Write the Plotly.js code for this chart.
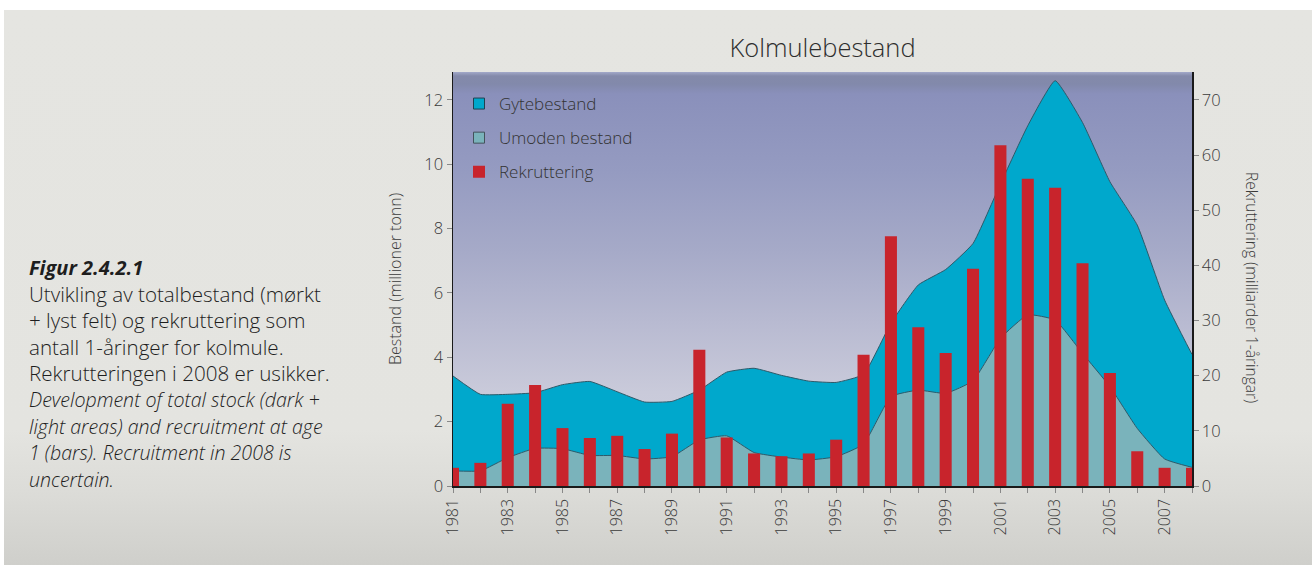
<!DOCTYPE html>
<html>
<head>
<meta charset="utf-8">
<script src="https://cdn.plot.ly/plotly-3.0.1.min.js"></script>
<style>
  html, body { margin: 0; padding: 0; width: 1312px; height: 565px; overflow: hidden; background: #ffffff; }
  #page { position: absolute; left: 4px; top: 10px; width: 1308px; height: 555px;
    background: linear-gradient(to bottom, #e5e5e1 0px, #e4e4e0 420px, #dcdcd8 480px, #cfcfcb 555px); }
  #plotbg { position: absolute; left: 453px; top: 72px; width: 739px; height: 414px;
    background: linear-gradient(to bottom, #a3a9c9 0px, #848aaa 4px, #8289ab 12px, #8a90bb 22px, #959bc1 100px, #a6aac8 180px, #b8bad1 250px, #c9cada 320px, #d3d3de 414px); }
  #chart { position: absolute; left: 0; top: 0; width: 1312px; height: 565px; }
</style>
</head>
<body>
<div id="page"></div>
<div id="plotbg"></div>
<div id="chart"></div>
<script>
// ---- data ----
const years = [1981,1982,1983,1984,1985,1986,1987,1988,1989,1990,1991,1992,1993,1994,
               1995,1996,1997,1998,1999,2000,2001,2002,2003,2004,2005,2006,2007,2008];
// total stock (top of dark area), million tonnes
const totalStock = [3.42,2.85,2.85,2.90,3.15,3.25,2.93,2.61,2.63,2.98,3.54,3.66,3.44,3.26,
                    3.22,3.47,5.06,6.25,6.73,7.54,9.39,11.2,12.6,11.3,9.46,8.11,5.78,4.09];
// immature stock (light area), million tonnes
const immatureStock = [0.47,0.47,0.88,1.17,1.16,0.95,0.95,0.84,0.91,1.43,1.56,1.04,0.90,0.81,
                       0.91,1.30,2.78,2.98,2.88,3.27,4.59,5.32,5.16,4.12,3.09,1.79,0.84,0.58];
// recruitment, billions of 1-year-olds
const recruitment = [3.3,4.2,14.9,18.3,10.5,8.7,9.1,6.7,9.5,24.7,8.8,5.9,5.4,5.9,
                     8.4,23.8,45.3,28.8,24.1,39.4,61.8,55.7,54.1,40.4,20.5,6.3,3.3,3.3];

const titleText = 'Kolmulebestand';
const seriesNames = ['Gytebestand', 'Umoden bestand', 'Rekruttering'];
const leftAxisTitle = 'Bestand (millioner tonn)';
const rightAxisTitle = 'Rekruttering (milliarder 1-åringar)';
const leftTicks = [0,2,4,6,8,10,12];
const rightTicks = [0,10,20,30,40,50,60,70];
const xTicks = [1981,1983,1985,1987,1989,1991,1993,1995,1997,1999,2001,2003,2005,2007];
const captionLines = [
  '<b><i>Figur 2.4.2.1</i></b>',
  'Utvikling av totalbestand (mørkt',
  '+ lyst felt) og rekruttering som',
  'antall 1-åringer for kolmule.',
  'Rekrutteringen i 2008 er usikker.',
  '<i>Development of total stock (dark +</i>',
  '<i>light areas) and recruitment at age</i>',
  '<i>1 (bars). Recruitment in 2008 is</i>',
  '<i>uncertain.</i>'
];
const captionSizes = [20, 20.6, 20.6, 20.6, 20.6, 19.6, 19.6, 19.6, 19.6];

// ---- layout helpers (pixel -> paper) ----
const L = 453, R = 1192, T = 72, B = 486;
const px = x => (x - L) / (R - L);
const py = y => (B - y) / (B - T);

const DARK = '#00a8cc', LIGHT = '#7ab3bb', RED = '#c8242c', EDGE = '#2c5a69';
const FONT = '"Open Sans", "Noto Sans", sans-serif';
const TXT = '#3a3a3a';

const traces = [
  { x: years, y: immatureStock, type: 'scatter', mode: 'lines', fill: 'tozeroy',
    fillcolor: LIGHT, line: { color: EDGE, width: 1, shape: 'spline', smoothing: 0.4 },
    showlegend: false, hoverinfo: 'skip' },
  { x: years, y: totalStock, type: 'scatter', mode: 'lines', fill: 'tonexty',
    fillcolor: DARK, line: { color: EDGE, width: 1, shape: 'spline', smoothing: 0.4 },
    showlegend: false, hoverinfo: 'skip' },
  { x: [null], y: [null], type: 'scatter', mode: 'markers', name: seriesNames[0], legendgroup: 'a',
    marker: { symbol: 'square', size: 11, color: DARK, line: { color: '#1f4250', width: 1 } } },
  { x: [null], y: [null], type: 'scatter', mode: 'markers', name: seriesNames[1], legendgroup: 'b',
    marker: { symbol: 'square', size: 11, color: LIGHT, line: { color: '#44525a', width: 1 } } },
  { x: years, y: recruitment, type: 'bar', yaxis: 'y2', name: seriesNames[2], legendgroup: 'c',
    width: 0.44, marker: { color: RED, line: { width: 0 } } }
];

const annotations = captionLines.map((t, i) => ({
  text: t, xref: 'paper', yref: 'paper', x: px(27), y: py(267 + i * 26.5),
  xanchor: 'left', yanchor: 'middle', showarrow: false,
  font: { family: FONT, size: captionSizes[i], color: '#1e1e1e' }
}));
annotations.push({
  text: rightAxisTitle, xref: 'paper', yref: 'paper', x: px(1252), y: py(287),
  xanchor: 'center', yanchor: 'middle', showarrow: false, textangle: 90,
  font: { family: FONT, size: 15.5, color: TXT, weight: 300 }
});

const layout = {
  width: 1312, height: 565,
  margin: { l: L, r: 1312 - R, t: T, b: 565 - B, pad: 0 },
  paper_bgcolor: 'rgba(0,0,0,0)', plot_bgcolor: 'rgba(0,0,0,0)',
  font: { family: FONT, color: TXT, weight: 300 },
  title: { text: titleText, xref: 'paper', x: 0.5, xanchor: 'center', y: 1 - 48 / 565, yanchor: 'middle',
           font: { family: FONT, size: 25.5, color: '#2e2e2e', weight: 300 } },
  barmode: 'overlay',
  showlegend: true,
  legend: { x: px(459), y: py(86), xanchor: 'left', yanchor: 'top', bgcolor: 'rgba(0,0,0,0)',
            traceorder: 'grouped', tracegroupgap: 9,
            font: { family: FONT, size: 17, color: '#333', weight: 300 } },
  xaxis: { range: [1981, 2008], tickmode: 'array', tickvals: xTicks, tickangle: -90,
           ticks: 'outside', ticklen: 5, tickcolor: '#888', showgrid: false, zeroline: false,
           showline: true, linecolor: '#1a1a1a', linewidth: 1.5,
           minor: { dtick: 1, tick0: 1981, ticks: 'outside', ticklen: 5, tickcolor: '#888', showgrid: false },
           tickfont: { family: FONT, size: 16, color: TXT, weight: 300 } },
  yaxis: { range: [0, 12.87], tickmode: 'array', tickvals: leftTicks,
           ticks: 'outside', ticklen: 5, tickcolor: '#888', showgrid: false, zeroline: false,
           showline: true, linecolor: '#1a1a1a', linewidth: 1.5,
           tickfont: { family: FONT, size: 16.5, color: TXT, weight: 300 },
           title: { text: leftAxisTitle, standoff: 19, font: { family: FONT, size: 16, color: TXT, weight: 300 } } },
  yaxis2: { range: [0, 12.87 * 70 / 12], overlaying: 'y', side: 'right', tickmode: 'array', tickvals: rightTicks,
            ticks: 'outside', ticklen: 5, tickcolor: '#888', showgrid: false, zeroline: false,
            showline: true, linecolor: '#1a1a1a', linewidth: 1.5,
            tickfont: { family: FONT, size: 16.5, color: TXT, weight: 300 } },
  annotations: annotations
};

Plotly.newPlot('chart', traces, layout, { displayModeBar: false, staticPlot: true });
</script>
</body>
</html>
